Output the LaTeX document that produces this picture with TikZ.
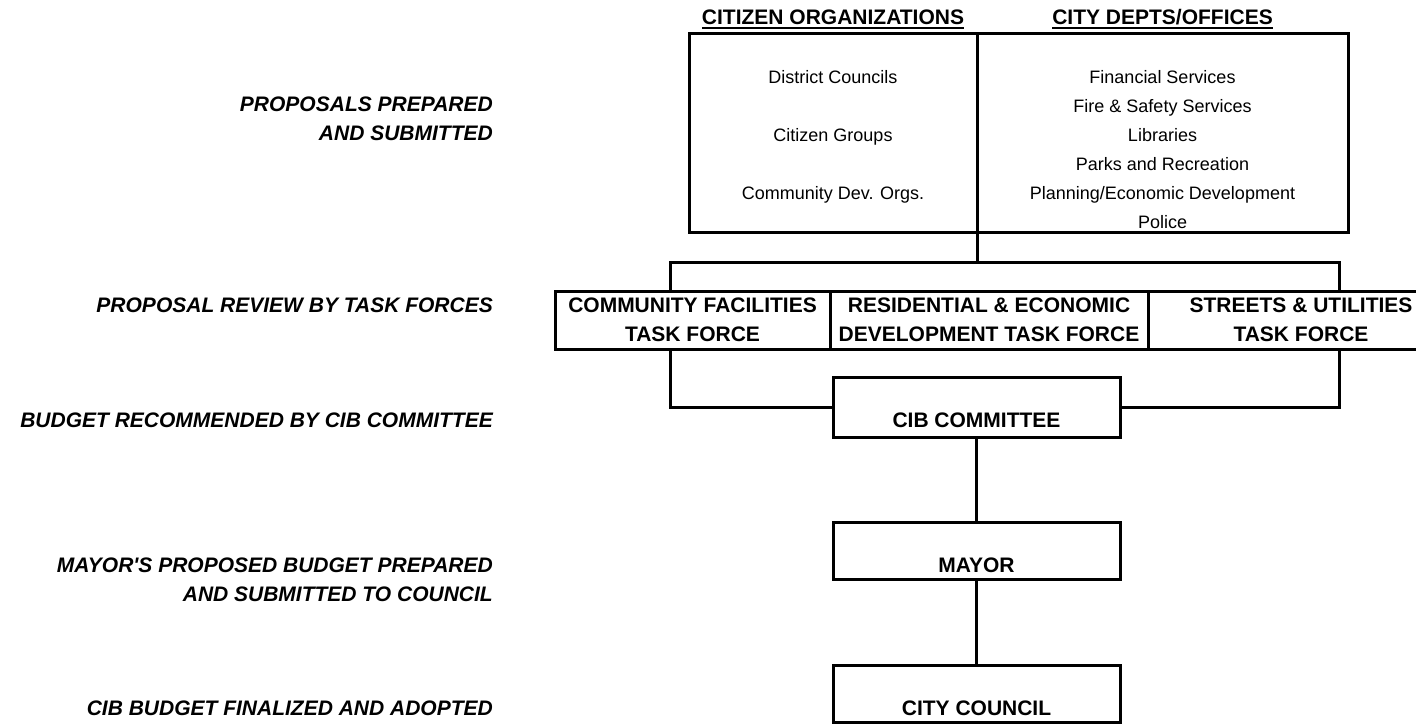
\documentclass[tikz,border=0pt]{standalone}
\usepackage{fontspec}
\setmainfont{Liberation Sans}
\begin{document}
\begin{tikzpicture}[x=1pt,y=-1pt]
\tikzset{
 box/.style={draw, line width=3pt, outer sep=0pt, inner sep=0pt, anchor=north west},
 lbl/.style={font=\fontsize{21}{29}\selectfont\bfseries\itshape, align=right, anchor=north east, inner sep=0pt},
 hdr/.style={font=\fontsize{21}{29}\selectfont\bfseries, anchor=base, inner sep=0pt},
 boldtxt/.style={font=\fontsize{21}{29}\selectfont\bfseries, align=center, anchor=north, inner sep=0pt},
 reg/.style={font=\fontsize{18}{29}\selectfont, align=center, inner sep=0pt},
 conn/.style={line width=3pt},
}
\useasboundingbox (0,0) rectangle (1416,723);

% boxes
\node[box, minimum width=288pt, minimum height=199pt] (orgs) at (689,33) {};
\node[box, minimum width=371pt, minimum height=199pt] (depts) at (977,33) {};
\node[box, minimum width=275pt, minimum height=58pt] (tf1) at (555,291) {};
\node[box, minimum width=318pt, minimum height=58pt] (tf2) at (830,291) {};
\node[box, minimum width=306pt, minimum height=58pt] (tf3) at (1148,291) {};
\node[box, minimum width=287pt, minimum height=60pt] (cib) at (833,377) {};
\node[box, minimum width=287pt, minimum height=57pt] (mayor) at (833,522) {};
\node[box, minimum width=287pt, minimum height=57pt] (council) at (833,665) {};

% headers
\node[hdr] (h1) at (833,24) {CITIZEN ORGANIZATIONS};
\node[hdr] (h2) at (1162.5,24) {CITY DEPTS/OFFICES};
\draw[line width=2pt] ([yshift=-3.5pt]h1.base west) -- ([yshift=-3.5pt]h1.base east);
\draw[line width=2pt] ([yshift=-3.5pt]h2.base west) -- ([yshift=-3.5pt]h2.base east);

% box contents
\node[reg, anchor=base] (dc) at (833,83) {District Councils};
\node[reg, anchor=base] (cg) at (833,141) {Citizen Groups};
\node[reg, anchor=base] (cdo) at (833,199) {Community Dev. Orgs.};
\node[reg, anchor=north] (cd) at (1162.5,70.1) {Financial Services\\Fire \& Safety Services\\Libraries\\Parks and Recreation\\Planning/Economic Development\\Police};

\node[boldtxt] (t1) at (692.5,298) {COMMUNITY FACILITIES\\TASK FORCE};
\node[boldtxt] (t2) at (989,298) {RESIDENTIAL \& ECONOMIC\\DEVELOPMENT TASK FORCE};
\node[boldtxt] (t3) at (1301,298) {STREETS \& UTILITIES\\TASK FORCE};
\node[boldtxt] (tcib) at (976.5,413) {CIB COMMITTEE};
\node[boldtxt] (tmayor) at (976.5,558) {MAYOR};
\node[boldtxt] (tcouncil) at (976.5,701) {CITY COUNCIL};

% left stage labels
\node[lbl] (l1) at (493,97) {PROPOSALS PREPARED\\AND SUBMITTED};
\node[lbl] (l2) at (493,298) {PROPOSAL REVIEW BY TASK FORCES};
\node[lbl] (l3) at (493,413) {BUDGET RECOMMENDED BY CIB COMMITTEE};
\node[lbl] (l4) at (493,558) {MAYOR\textquotesingle S PROPOSED BUDGET PREPARED\\AND SUBMITTED TO COUNCIL};
\node[lbl] (l5) at (493,701) {CIB BUDGET FINALIZED AND ADOPTED};

% connectors
\coordinate (j) at (977,262);
\coordinate (bl) at (670,262);
\coordinate (br) at (1339,262);
\draw[conn] (orgs.south east) -- (j);
\draw[conn] (bl |- tf1.north) -- (bl) -- (br) -- (br |- tf3.north);
\draw[conn] (bl |- tf1.south) |- (cib.west);
\draw[conn] (br |- tf3.south) |- (cib.east);
\draw[conn] (cib) -- (mayor);
\draw[conn] (mayor) -- (council);
\end{tikzpicture}
\end{document}
